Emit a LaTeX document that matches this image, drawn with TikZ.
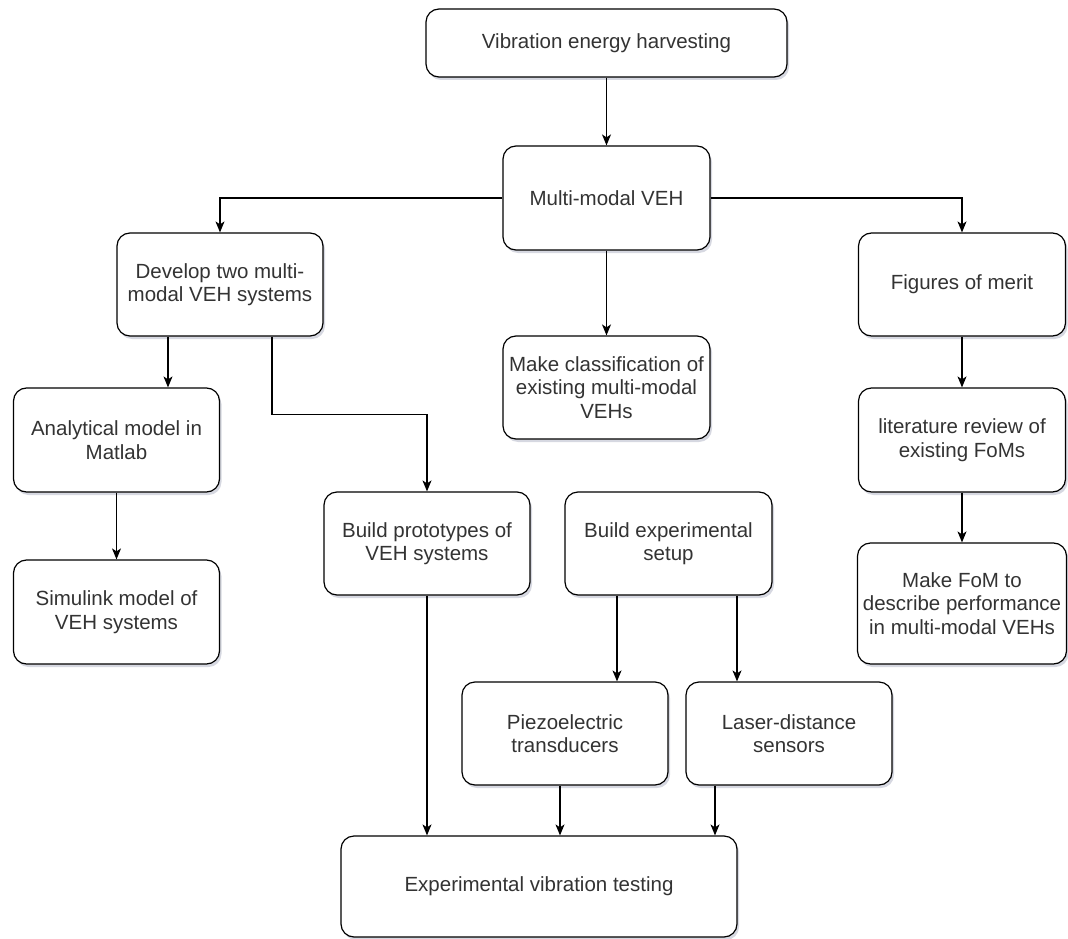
\documentclass[tikz,border=0pt]{standalone}
\usepackage{fontspec}
\setmainfont{Liberation Sans}
\usetikzlibrary{arrows.meta,shadows}
\definecolor{txt}{HTML}{333333}
\definecolor{shad}{HTML}{8A8FA8}
\begin{document}
\begin{tikzpicture}[x=1pt,y=-1pt,
  box/.style={draw=black,line width=1.2pt,rounded corners=13pt,fill=white,
    align=center,inner sep=2pt,text=txt,
    font=\fontsize{20.5pt}{23.5pt}\selectfont,
    drop shadow={shadow xshift=2pt,shadow yshift=-3pt,opacity=0.35,fill=shad}},
  arr/.style={line width=1.2pt,-{Stealth[length=11pt,width=9pt,inset=3pt]}}]
\useasboundingbox (0,0) rectangle (1068,939);

\node[box,minimum width=361pt,minimum height=68pt] (top) at (606.5,43) {Vibration energy harvesting};
\node[box,minimum width=207pt,minimum height=104pt] (multi) at (606.5,198) {Multi-modal VEH};
\node[box,minimum width=206pt,minimum height=103pt] (develop) at (220,284.5) {Develop two multi-\\modal VEH systems};
\node[box,minimum width=207pt,minimum height=103pt] (figures) at (962,284.5) {Figures of merit};
\node[box,minimum width=207pt,minimum height=103pt] (classif) at (606.5,387.5) {Make classification of\\existing multi-modal\\VEHs};
\node[box,minimum width=206pt,minimum height=104pt] (analytical) at (116.5,440) {Analytical model in\\Matlab};
\node[box,minimum width=207pt,minimum height=104pt] (literature) at (962,440) {literature review of\\existing FoMs};
\node[box,minimum width=206pt,minimum height=103pt] (proto) at (427,543.5) {Build prototypes of\\VEH systems};
\node[box,minimum width=207pt,minimum height=103pt] (setup) at (668.5,543.5) {Build experimental\\setup};
\node[box,minimum width=206pt,minimum height=104pt] (simulink) at (116.5,612) {Simulink model of\\VEH systems};
\node[box,minimum width=209pt,minimum height=121pt] (makefom) at (962,603.5) {Make FoM to\\describe performance\\in multi-modal VEHs};
\node[box,minimum width=206pt,minimum height=103pt] (piezo) at (565,733.5) {Piezoelectric\\transducers};
\node[box,minimum width=206pt,minimum height=103pt] (laser) at (789,733.5) {Laser-distance\\sensors};
\node[box,minimum width=396pt,minimum height=101pt] (exp) at (539,886.5) {Experimental vibration testing};

\draw[arr] (top.south) -- (multi.north);
\draw[arr] (multi.west) -| (develop.north);
\draw[arr] (multi.east) -| (figures.north);
\draw[arr] (multi.south) -- (classif.north);
\draw[arr] ([xshift=-52pt]develop.south) -- ([xshift=-52pt]develop.south |- analytical.north);
\draw[arr] ([xshift=52pt]develop.south) -- ++(0pt,-78pt) -| (proto.north);
\draw[arr] (analytical.south) -- (simulink.north);
\draw[arr] (figures.south) -- (literature.north);
\draw[arr] (literature.south) -- (makefom.north);
\draw[arr] (proto.south) -- (proto.south |- exp.north);
\draw[arr] ([xshift=-51.5pt]setup.south) -- ([xshift=-51.5pt]setup.south |- piezo.north);
\draw[arr] ([xshift=68.5pt]setup.south) -- ([xshift=68.5pt]setup.south |- laser.north);
\draw[arr] ([xshift=-5pt]piezo.south) -- ([xshift=-5pt]piezo.south |- exp.north);
\draw[arr] ([xshift=-74pt]laser.south) -- ([xshift=-74pt]laser.south |- exp.north);
\end{tikzpicture}
\end{document}
